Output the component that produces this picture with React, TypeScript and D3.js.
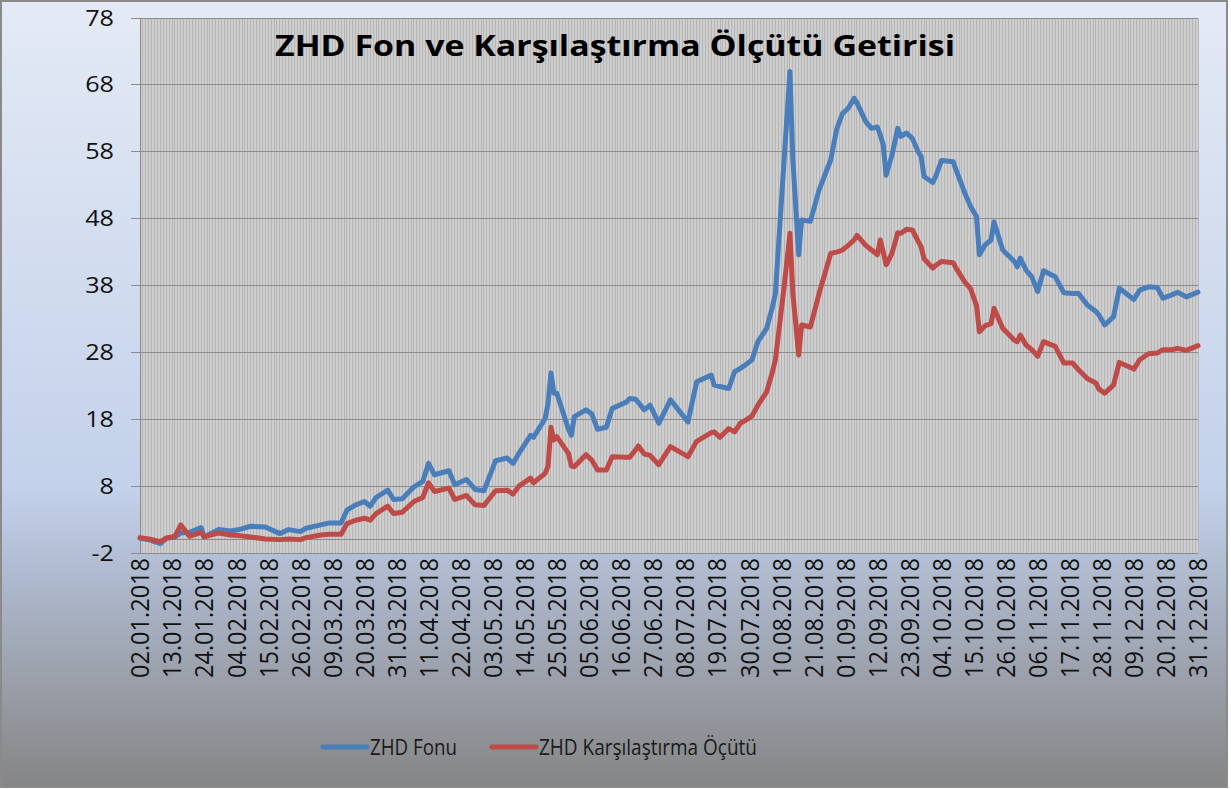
import React from "react";
import * as d3 from "d3";

const dates = [
  "02.01", "05.01", "09.01", "11.01", "14.01", "16.01", "19.01", "23.01", "24.01", "29.01",
  "02.02", "05.02", "09.02", "14.02", "19.02", "22.02", "26.02", "28.02",
  "05.03", "08.03", "12.03", "14.03", "17.03", "20.03", "22.03", "24.03", "28.03", "30.03",
  "02.04", "06.04", "09.04", "11.04", "13.04", "18.04", "20.04", "24.04", "27.04", "30.04",
  "04.05", "08.05", "10.05", "12.05", "16.05", "17.05", "21.05", "22.05", "23.05", "24.05", "25.05", "29.05", "30.05", "31.05",
  "04.06", "06.06", "08.06", "11.06", "13.06", "18.06", "19.06", "21.06", "22.06", "24.06", "26.06", "29.06",
  "03.07", "09.07", "12.07", "17.07", "18.07", "20.07", "23.07", "25.07", "27.07", "29.07", "31.07",
  "02.08", "05.08", "07.08", "08.08", "11.08", "13.08", "14.08", "16.08", "17.08", "20.08", "23.08", "27.08", "29.08", "31.08",
  "02.09", "04.09", "05.09", "08.09", "10.09", "12.09", "13.09", "14.09", "15.09", "17.09", "19.09", "20.09", "22.09", "24.09", "26.09", "27.09", "28.09",
  "01.10", "02.10", "04.10", "08.10", "09.10", "12.10", "14.10", "16.10", "17.10", "19.10", "21.10", "22.10", "25.10", "29.10", "30.10", "31.10",
  "02.11", "04.11", "06.11", "08.11", "12.11", "15.11", "18.11", "20.11", "23.11", "26.11", "27.11", "29.11",
  "02.12", "04.12", "09.12", "11.12", "14.12", "17.12", "19.12", "22.12", "24.12", "27.12", "31.12",
];

const fund = [
  0.2, 0.0, -0.6, 0.2, 0.4, 1.0, 1.1, 1.8, 0.4, 1.5,
  1.3, 1.5, 2.0, 1.9, 0.9, 1.5, 1.2, 1.7,
  2.2, 2.5, 2.5, 4.4, 5.2, 5.7, 5.0, 6.3, 7.4, 6.0,
  6.1, 7.9, 8.7, 11.4, 9.7, 10.3, 8.2, 9.0, 7.5, 7.3,
  11.8, 12.2, 11.4, 12.9, 15.6, 15.3, 18.1, 20.4, 24.9, 21.9, 21.9, 16.5, 15.6, 18.4,
  19.4, 18.8, 16.5, 16.8, 19.6, 20.6, 21.1, 21.0, 20.5, 19.4, 20.1, 17.4,
  20.9, 17.6, 23.6, 24.6, 23.1, 22.9, 22.6, 25.1, 25.6, 26.2, 26.9,
  29.6, 31.6, 34.8, 36.8, 56.8, 70.0, 56.8, 42.6, 47.8, 47.6, 52.3, 56.8, 61.3, 63.7,
  64.5, 66.0, 65.3, 62.5, 61.5, 61.7, 60.5, 59.0, 54.5, 57.5, 61.5, 60.3, 60.8, 60.0, 58.0, 57.3, 54.3,
  53.4, 54.3, 56.7, 56.5, 55.3, 51.8, 49.8, 48.3, 42.6, 44.1, 44.8, 47.5, 43.3, 41.6, 40.8, 42.1,
  40.3, 39.3, 37.1, 40.2, 39.3, 36.9, 36.8, 36.8, 35.1, 34.1, 33.6, 32.1,
  33.3, 37.6, 35.9, 37.3, 37.8, 37.7, 36.1, 36.6, 37.0, 36.3, 37.0,
];

const benchmark = [
  0.3, 0.1, -0.3, 0.2, 0.5, 2.2, 0.5, 1.1, 0.4, 1.0,
  0.7, 0.6, 0.4, 0.1, 0.0, 0.1, 0.0, 0.3,
  0.7, 0.8, 0.8, 2.4, 2.9, 3.2, 2.9, 3.9, 5.0, 3.9,
  4.1, 5.7, 6.3, 8.5, 7.2, 7.7, 6.0, 6.6, 5.2, 5.1,
  7.3, 7.4, 6.8, 8.0, 9.2, 8.5, 9.9, 11.0, 16.8, 14.9, 15.4, 12.9, 11.0, 10.9,
  12.7, 11.9, 10.4, 10.4, 12.4, 12.3, 12.3, 13.4, 14.0, 12.8, 12.6, 11.2,
  13.9, 12.4, 14.7, 16.0, 16.1, 15.3, 16.6, 16.1, 17.4, 17.9, 18.5,
  20.1, 22.1, 25.1, 26.9, 37.8, 45.8, 36.8, 27.6, 32.1, 31.8, 36.8, 42.8, 43.0, 43.3,
  44.0, 44.8, 45.5, 44.0, 43.3, 42.6, 44.8, 43.0, 41.1, 42.8, 45.9, 45.8, 46.4, 46.3, 44.6, 43.8, 42.0,
  40.6, 41.0, 41.6, 41.4, 40.6, 38.5, 37.5, 35.0, 31.1, 32.0, 32.3, 34.6, 31.6, 29.8, 29.6, 30.6,
  29.1, 28.4, 27.4, 29.6, 28.9, 26.4, 26.4, 25.4, 24.1, 23.4, 22.5, 21.9,
  23.1, 26.5, 25.5, 26.9, 27.8, 27.9, 28.4, 28.4, 28.6, 28.3, 29.0,
];

const tickLabels = [
  "02.01.2018", "13.01.2018", "24.01.2018", "04.02.2018", "15.02.2018", "26.02.2018",
  "09.03.2018", "20.03.2018", "31.03.2018", "11.04.2018", "22.04.2018", "03.05.2018",
  "14.05.2018", "25.05.2018", "05.06.2018", "16.06.2018", "27.06.2018", "08.07.2018",
  "19.07.2018", "30.07.2018", "10.08.2018", "21.08.2018", "01.09.2018", "12.09.2018",
  "23.09.2018", "04.10.2018", "15.10.2018", "26.10.2018", "06.11.2018", "17.11.2018",
  "28.11.2018", "09.12.2018", "20.12.2018", "31.12.2018",
];

const yTicks = [-2, 8, 18, 28, 38, 48, 58, 68, 78];

const seriesNames = ["ZHD Fonu", "ZHD Karşılaştırma Öçütü"];
const colors = ["#4a7ebb", "#be4b48"];

const W = 1231;
const H = 789;
const plot = { left: 140, right: 1198, top: 18, bottom: 553 };
const font = "'Open Sans', 'Noto Sans', sans-serif";

const parseDay = d3.timeParse("%d.%m.%Y");

export default function App() {
  const start = parseDay(tickLabels[0])!;
  const end = parseDay(tickLabels[tickLabels.length - 1])!;

  const x = d3.scaleTime().domain([start, end]).range([plot.left, plot.right]);
  const y = d3.scaleLinear().domain([-2, 78]).range([plot.bottom, plot.top]);

  const days = dates.map(d => parseDay(d + ".2018")!);
  const line = d3
    .line<number>()
    .x((_, i) => x(days[i]))
    .y(v => y(v));

  // one thin vertical grid line per calendar day
  const dayLines = d3.timeDay.range(start, d3.timeDay.offset(end, 1));

  return (
    <svg
      width={W}
      height={H}
      style={{ position: "absolute", left: 0, top: 0, display: "block" }}
    >
      <defs>
        <linearGradient id="bg" x1="0" y1="0" x2="0" y2="1">
          <stop offset="0" stopColor="#e4eaf5" />
          <stop offset="0.62" stopColor="#c3d1ea" />
          <stop offset="0.74" stopColor="#adb8cc" />
          <stop offset="0.88" stopColor="#989ca5" />
          <stop offset="1" stopColor="#858585" />
        </linearGradient>
      </defs>

      <rect x={1} y={1} width={W - 5} height={H - 3} fill="url(#bg)" stroke="#8a8a8a" strokeWidth={2} />

      {/* plot area */}
      <rect
        x={plot.left}
        y={plot.top}
        width={plot.right - plot.left}
        height={plot.bottom - plot.top}
        fill="#cecece"
      />
      <g shapeRendering="crispEdges">
        {dayLines.map((d, i) => (
          <line key={i} x1={x(d)} x2={x(d)} y1={plot.top} y2={plot.bottom} stroke="#b6b6b6" strokeWidth={1} />
        ))}
        {yTicks.map(t => (
          <line key={t} x1={plot.left - 9} x2={plot.right} y1={y(t)} y2={y(t)} stroke="#8c8c8c" strokeWidth={1} />
        ))}
        <line x1={plot.left} x2={plot.right} y1={y(0)} y2={y(0)} stroke="#8a8a8a" strokeWidth={1} />
        <line x1={plot.left} x2={plot.left} y1={plot.top} y2={plot.bottom} stroke="#8a8a8a" strokeWidth={1} />
      </g>

      {/* y tick labels */}
      {yTicks.map(t => (
        <text
          key={t}
          transform={`translate(114,${y(t)}) scale(1.2,1)`}
          dy="0.36em"
          textAnchor="end"
          fontFamily={font}
          fontSize={21}
          fill="#111"
        >
          {t}
        </text>
      ))}

      {/* x tick labels */}
      {tickLabels.map(l => (
        <text
          key={l}
          transform={`translate(${x(parseDay(l)!)},558) rotate(-90)`}
          dy="0.36em"
          textAnchor="end"
          fontFamily={font}
          fontSize={26}
          textLength={120}
          lengthAdjust="spacingAndGlyphs"
          fill="#111"
        >
          {l}
        </text>
      ))}

      {/* series */}
      {[fund, benchmark].map((s, i) => (
        <path
          key={i}
          d={line(s) ?? ""}
          fill="none"
          stroke={colors[i]}
          strokeWidth={5}
          strokeLinejoin="round"
          strokeLinecap="round"
        />
      ))}

      {/* title */}
      <text
        x={275}
        y={56}
        fontFamily={font}
        fontWeight="bold"
        fontSize={29}
        textLength={680}
        lengthAdjust="spacingAndGlyphs"
        fill="#000"
      >
        ZHD Fon ve Karşılaştırma Ölçütü Getirisi
      </text>

      {/* legend */}
      {seriesNames.map((name, i) => {
        const lx = i === 0 ? 323 : 492;
        const tl = i === 0 ? 87 : 218;
        return (
          <g key={name}>
            <line x1={lx} x2={lx + 44} y1={747} y2={747} stroke={colors[i]} strokeWidth={5} strokeLinecap="round" />
            <text
              x={lx + 47}
              y={755}
              fontFamily={font}
              fontSize={21}
              textLength={tl}
              lengthAdjust="spacingAndGlyphs"
              fill="#1a1a1a"
            >
              {name}
            </text>
          </g>
        );
      })}
    </svg>
  );
}
